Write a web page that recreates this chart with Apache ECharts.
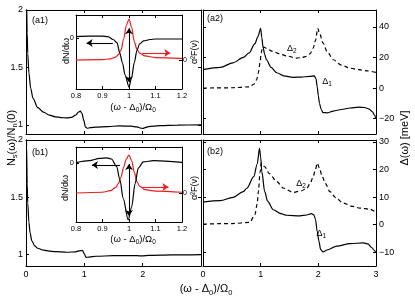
<!DOCTYPE html>
<html><head><meta charset="utf-8">
<script src="https://cdn.jsdelivr.net/npm/echarts@6/dist/echarts.min.js"></script>
<style>html,body{margin:0;padding:0;background:#fff}#c{width:415px;height:301px}</style>
</head><body><div id="c"></div>
<script>
// ---- data: main panels (x = (ω-Δ0)/Ω0) ----
const nsA_x = [0,0.01,0.02,0.03,0.05,0.08,0.12,0.2,0.3,0.4,0.5,0.6,0.7,0.78,0.85,0.9,0.93,0.96,0.99,1.02,1.05,1.1,1.2,1.4,1.6,1.8,1.9,1.97,2.0,2.04,2.1,2.3,2.6,3.0];
const nsA_y = [2.6,2.05,1.8,1.62,1.45,1.32,1.23,1.15,1.11,1.085,1.07,1.063,1.06,1.065,1.085,1.11,1.12,1.10,1.04,0.98,0.97,0.975,0.98,0.985,0.99,0.988,0.982,0.972,0.968,0.975,0.985,0.993,0.998,1.0];
const nsB_x = [0,0.01,0.02,0.03,0.05,0.07,0.1,0.15,0.2,0.3,0.4,0.5,0.7,0.85,0.93,0.97,1.0,1.03,1.08,1.2,1.5,1.9,2.0,2.1,2.5,3.0];
const nsB_y = [2.6,1.95,1.62,1.45,1.28,1.19,1.12,1.075,1.055,1.038,1.03,1.025,1.02,1.024,1.035,1.035,1.005,0.975,0.978,0.985,0.99,0.99,0.988,0.992,0.997,1.0];

const d1A_x = [0,0.3,0.52,0.7,0.8,0.9,0.95,1.0,1.02,1.04,1.07,1.1,1.18,1.28,1.4,1.56,1.7,1.85,1.93,1.96,1.98,2.0,2.02,2.05,2.08,2.15,2.26,2.4,2.55,2.7,2.8,2.88,2.94,2.97,3.0];
const d1A_y = [12,13.5,16.5,20,23,29,33.5,39,33,27,22,18.5,13.5,10,8,7,7.2,7.6,8,6,1,-5,-10,-14,-16,-16.2,-15,-14,-13,-12.5,-12.7,-13.7,-15.5,-17.5,-20];
const d2A_x = [0,0.5,0.81,0.88,0.93,0.96,0.99,1.01,1.03,1.07,1.1,1.2,1.33,1.45,1.62,1.72,1.8,1.86,1.91,1.95,1.99,2.02,2.08,2.15,2.26,2.4,2.55,2.7,2.84,3.0];
const d2A_y = [0,0.2,0.8,2.5,5.4,10,17,23,27,26.5,26,24,22.4,21,19.6,20,20.8,22.5,26,31,39,36,29.5,24,18.5,15,13,12,11.3,10.2];

const d1B_x = [0,0.3,0.52,0.7,0.76,0.88,0.94,0.98,1.0,1.02,1.07,1.12,1.22,1.35,1.45,1.68,1.8,1.88,1.92,1.95,1.98,2.01,2.04,2.08,2.15,2.32,2.55,2.78,2.86,2.92,2.97,3.0];
const d1B_y = [8.2,8.7,9.9,12,13.2,17.4,22,27.7,24.5,19.2,12,8.5,5.4,4,3.4,3.2,3.5,4,3.6,2,-2.4,-6,-9,-9.9,-9.2,-7.8,-6.9,-6.6,-7,-8.2,-9.3,-10.2];
const d2B_x = [0,0.5,0.81,0.9,0.94,0.96,0.99,1.01,1.07,1.15,1.28,1.4,1.56,1.7,1.8,1.86,1.91,1.95,1.98,2.02,2.06,2.12,2.2,2.3,2.43,2.6,2.72,2.9,2.96,3.0];
const d2B_y = [0.2,0.4,0.8,3.6,7.5,12,19,22.3,21,18.5,15.6,13.2,11.7,12.2,13.2,15,17.4,20,22.3,20.5,18,15,12,9.8,7.8,6.6,6,5.6,5,4.2];

// ---- data: insets ----
const dnA_x = [0.8,0.85,0.9,0.92,0.94,0.955,0.965,0.975,0.985,1.0,1.01,1.02,1.03,1.04,1.055,1.08,1.1,1.2];
const dnA_y = [0.03,0.04,0.04,0.03,-0.03,-0.1,-0.3,-0.5,-0.75,-1.0,-0.8,-0.5,-0.25,-0.12,-0.06,-0.03,-0.02,-0.02];
const a2fA_x = [0.8,0.9,0.93,0.95,0.96,0.97,0.98,0.99,1.0,1.01,1.02,1.03,1.04,1.06,1.1,1.2];
const a2fA_y = [0,0.01,0.03,0.07,0.13,0.25,0.52,0.85,1.0,0.8,0.45,0.26,0.17,0.1,0.06,0.04];
const dnB_x = [0.8,0.85,0.89,0.915,0.934,0.953,0.966,0.978,0.997,1.01,1.023,1.035,1.054,1.093,1.2];
const dnB_y = [0.005,0.04,0.08,0.09,0.07,-0.06,-0.3,-0.62,-1.0,-0.77,-0.36,-0.09,0.02,0.04,0.01];
const a2fB_x = [0.8,0.9,0.93,0.95,0.96,0.97,0.98,0.99,1.0,1.01,1.02,1.03,1.04,1.06,1.1,1.2];
const a2fB_y = [0,0.02,0.06,0.15,0.25,0.42,0.68,0.9,1.0,0.85,0.55,0.3,0.18,0.09,0.05,0.02];

// arrows (data coordinates): [x1,y1,x2,y2]
const arrA_black = [0.939,-0.1,0.84,-0.1];
const arrA_red = [1.05,0.17,1.156,0.17];
const arrA_vert = [1.0,0.2,1.0,-0.9];
const arrB_black = [0.966,-0.035,0.86,-0.035];
const arrB_red = [1.05,0.16,1.149,0.16];
const arrB_vert = [1.0,-0.02,1.0,-0.93];

// tick labels
const mainXTicks = [0,1,2,3];
const leftXLabels = [0,1,2];
const rightXLabels = [0,1,2,3];
const nsTicks = [1,1.5,2];
const dATicks = [-20,0,20,40];
const dBTicks = [-10,0,10,20,30];
const insetXTicks = [0.8,0.9,1,1.1,1.2];

// Δ labels positions (data coords)
const labA = {d2:[1.54,25.6], d1:[2.15,4.1]};
const labB = {d2:[1.70,14.9], d1:[2.05,-3.2]};

const FONT = 'Liberation Sans, Arial, sans-serif';
const zip = (xs, ys) => xs.map((x, i) => [x, ys[i]]);
const fmtNeg = v => String(v).replace('-', '\u2212');

function xAx(grid, pos, min, max, ticks, labels, fs, margin) {
  return {
    type: 'value', gridIndex: grid, position: pos, min, max,
    axisLine: {show: true, onZero: false, lineStyle: {color: '#000', width: 1}},
    axisTick: {show: true, inside: true, length: 3, customValues: ticks, lineStyle: {color: '#000'}},
    axisLabel: {show: !!labels, customValues: labels || ticks, fontSize: fs || 9, fontFamily: FONT, color: '#000', margin: margin || 4,
      formatter: v => fmtNeg(+(+v).toFixed(2))},
    splitLine: {show: false}
  };
}
function yAx(grid, pos, min, max, ticks, labels, fs, margin) {
  return {
    type: 'value', gridIndex: grid, position: pos, min, max,
    axisLine: {show: true, onZero: false, lineStyle: {color: '#000', width: 1}},
    axisTick: {show: true, inside: true, length: 3, customValues: ticks, lineStyle: {color: '#000'}},
    axisLabel: {show: !!labels, customValues: labels || ticks, fontSize: fs || 9, fontFamily: FONT, color: '#000', margin: margin === undefined ? 3 : margin,
      formatter: v => fmtNeg(+(+v).toFixed(2))},
    splitLine: {show: false}
  };
}

function line(xi, yi, data, color, dashed, extra) {
  return Object.assign({
    type: 'line', xAxisIndex: xi, yAxisIndex: yi, data, symbol: 'none', smooth: 0.3, smoothMonotone: 'x',
    lineStyle: {color, width: 1.2, type: dashed ? [4, 3] : 'solid'}, clip: true, silent: true, z: 3
  }, extra || {});
}
function arrowML(arrs) {
  return {
    silent: true, animation: false, label: {show: false},
    data: arrs.map(a => [{coord: [a.c[0], a.c[1]], symbol: a.both ? 'arrow' : 'none', symbolSize: 6,
      lineStyle: {color: a.color, width: 1.1, type: 'solid'}}, {coord: [a.c[2], a.c[3]], symbol: 'arrow', symbolSize: 6}])
  };
}
const rich = {
  d: {fontSize: 9, fontFamily: FONT, color: '#000', lineHeight: 12},
  s: {fontSize: 6.5, fontFamily: FONT, color: '#000', verticalAlign: 'bottom', lineHeight: 8}
};
function deltaMP(a, b) {
  return {
    silent: true, symbol: 'circle', symbolSize: 1, itemStyle: {color: 'rgba(0,0,0,0)'},
    label: {show: true, position: 'inside', rich, formatter: p => p.name},
    data: [{name: '{d|Δ}{s|2}', coord: a}, {name: '{d|Δ}{s|1}', coord: b}]
  };
}

const option = {
  animation: false,
  backgroundColor: '#fff',
  grid: [
    {left: 26, top: 10, width: 175, height: 124},
    {left: 26, top: 140, width: 175, height: 126},
    {left: 203, top: 10, width: 173, height: 124},
    {left: 203, top: 140, width: 173, height: 126},
    {left: 76, top: 15, width: 106, height: 74},
    {left: 76, top: 147, width: 106, height: 75}
  ],
  xAxis: [
    xAx(0, 'bottom', 0, 3, mainXTicks, null),
    xAx(0, 'top', 0, 3, mainXTicks, null),
    xAx(1, 'bottom', 0, 3, mainXTicks, leftXLabels),
    xAx(1, 'top', 0, 3, mainXTicks, null),
    xAx(2, 'bottom', 0, 3, mainXTicks, null),
    xAx(2, 'top', 0, 3, mainXTicks, null),
    xAx(3, 'bottom', 0, 3, mainXTicks, rightXLabels),
    xAx(3, 'top', 0, 3, mainXTicks, null),
    xAx(4, 'bottom', 0.8, 1.2, insetXTicks, insetXTicks, 7.5, 3),
    xAx(4, 'top', 0.8, 1.2, insetXTicks, null),
    xAx(5, 'bottom', 0.8, 1.2, insetXTicks, insetXTicks, 7.5, 3),
    xAx(5, 'top', 0.8, 1.2, insetXTicks, null)
  ],
  yAxis: [
    yAx(0, 'left', 0.92, 2, nsTicks, nsTicks),
    yAx(0, 'right', 0.92, 2, nsTicks, null),
    yAx(1, 'left', 0.9, 2, nsTicks, nsTicks),
    yAx(1, 'right', 0.9, 2, nsTicks, null),
    yAx(2, 'left', -30, 51, dATicks, null),
    yAx(2, 'right', -30, 51, dATicks, dATicks),
    yAx(3, 'left', -15, 30.7, dBTicks, null),
    yAx(3, 'right', -15, 30.7, dBTicks, dBTicks),
    yAx(4, 'left', -1.04, 0.47, [0], [0], 7.5, 2),
    yAx(4, 'right', -0.707, 1.1, [0], [0], 7, 1),
    yAx(5, 'left', -1.035, 0.28, [0], [0], 7.5, 2),
    yAx(5, 'right', -0.763, 1.21, [0], [0], 7, 1)
  ],
  series: [
    line(0, 0, zip(nsA_x, nsA_y), '#000', false),
    line(2, 2, zip(nsB_x, nsB_y), '#000', false),
    line(4, 4, zip(d1A_x, d1A_y), '#000', false, {markPoint: deltaMP(labA.d2, labA.d1)}),
    line(4, 4, zip(d2A_x, d2A_y), '#000', true),
    line(6, 6, zip(d1B_x, d1B_y), '#000', false, {markPoint: deltaMP(labB.d2, labB.d1)}),
    line(6, 6, zip(d2B_x, d2B_y), '#000', true),
    line(8, 9, zip(a2fA_x, a2fA_y), '#ee1c1c', false, {markLine: arrowML([{c: arrA_red, color: '#ee1c1c'}])}),
    line(8, 8, zip(dnA_x, dnA_y), '#000', false, {markLine: arrowML([{c: arrA_black, color: '#000'}, {c: arrA_vert, color: '#000', both: true}])}),
    line(10, 11, zip(a2fB_x, a2fB_y), '#ee1c1c', false, {markLine: arrowML([{c: arrB_red, color: '#ee1c1c'}])}),
    line(10, 10, zip(dnB_x, dnB_y), '#000', false, {markLine: arrowML([{c: arrB_black, color: '#000'}, {c: arrB_vert, color: '#000', both: true}])})
  ],
  graphic: []
};

function txt(x, y, text, fs, rot, align, richStyles) {
  return {
    type: 'text', x, y, rotation: rot ? Math.PI / 2 : 0, silent: true, z: 10,
    style: {text, fill: '#000', font: fs + 'px ' + FONT, fontSize: fs, fontFamily: FONT,
      textAlign: align || 'center', textVerticalAlign: 'middle', rich: richStyles}
  };
}
function subRich(fs) {
  return {
    n: {fontSize: fs, fontFamily: FONT, fill: '#000', lineHeight: fs + 3},
    s: {fontSize: fs * 0.68, fontFamily: FONT, fill: '#000', verticalAlign: 'bottom', lineHeight: fs * 0.8}
  };
}
option.graphic = [
  txt(11.5, 138, '{n|N}{s|s}{n|(ω)/N}{s|n}{n|(0)}', 11, true, 'center', subRich(11)),
  txt(405, 138, 'Δ(ω) [meV]', 11, true),
  txt(206, 289, '{n|(ω - Δ}{s|0}{n|)/Ω}{s|0}', 11, false, 'center', subRich(11)),
  txt(32, 21, '(a1)', 9, false, 'left'),
  txt(32, 153, '(b1)', 9, false, 'left'),
  txt(207, 19, '(a2)', 9, false, 'left'),
  txt(207, 152, '(b2)', 9, false, 'left'),
  txt(67, 51, 'dN/dω', 9, true),
  txt(66, 188, 'dN/dω', 9, true),
  txt(195, 52, 'α²F(ν)', 9, true),
  txt(195, 188, 'α²F(ν)', 9, true),
  txt(133, 107, '{n|(ω - Δ}{s|0}{n|)/Ω}{s|0}', 9.5, false, 'center', subRich(9.5)),
  txt(133, 239, '{n|(ω - Δ}{s|0}{n|)/Ω}{s|0}', 9.5, false, 'center', subRich(9.5))
];

const chart = echarts.init(document.getElementById('c'), null, {renderer: 'canvas'});
chart.setOption(option);
</script></body></html>
